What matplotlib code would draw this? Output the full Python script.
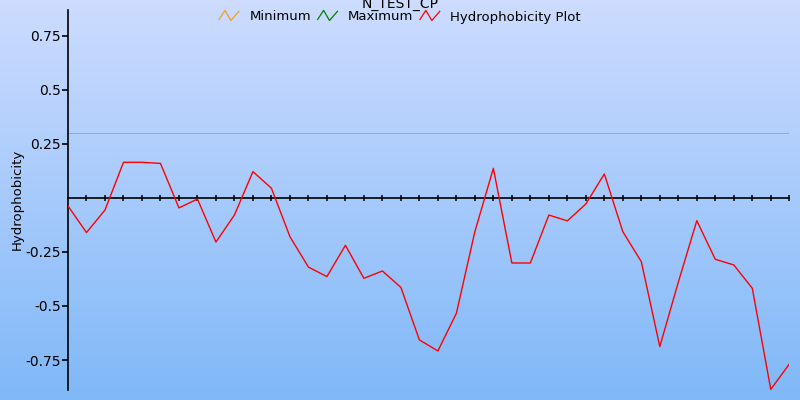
import matplotlib
matplotlib.use('Agg')
import matplotlib.pyplot as plt
from matplotlib.legend_handler import HandlerBase
from matplotlib.lines import Line2D
from matplotlib.colors import LinearSegmentedColormap
import numpy as np

# hydrophobicity per residue window
hydro = [-0.037, -0.16, -0.056, 0.165, 0.165, 0.16, -0.046, -0.005, -0.204, -0.079,
         0.122, 0.045, -0.179, -0.32, -0.364, -0.219, -0.372, -0.338, -0.414, -0.657,
         -0.708, -0.534, -0.156, 0.137, -0.301, -0.301, -0.079, -0.106, -0.028, 0.111,
         -0.156, -0.295, -0.688, -0.39, -0.105, -0.284, -0.31, -0.418, -0.886, -0.769]
minimum = 0.3
yticks = [0.75, 0.5, 0.25, -0.25, -0.5, -0.75]
ytick_labels = ['0.75', '0.5', '0.25', '-0.25', '-0.5', '-0.75']
title = 'N_TEST_CP'

x = np.arange(len(hydro))


class ZigZag(HandlerBase):
    # little zigzag icon like the original legend
    def create_artists(self, legend, orig_handle, xdescent, ydescent,
                       width, height, fontsize, trans):
        px = np.array([0.0, 0.3, 0.6, 1.0]) * width - xdescent
        py = np.array([0.1, 1.0, 0.0, 0.9]) * height * 1.1 - ydescent
        ln = Line2D(px, py, color=orig_handle.get_color(), lw=0.9, transform=trans)
        return [ln]


fig = plt.figure(figsize=(8, 4), dpi=100)

# gradient background
bg = fig.add_axes([0, 0, 1, 1], zorder=-10)
cmap = LinearSegmentedColormap.from_list('bg', ['#cddcff', '#80b8f8'])
bg.imshow(np.linspace(0, 1, 256).reshape(-1, 1), aspect='auto', cmap=cmap,
          extent=[0, 1, 0, 1])
bg.axis('off')

ax = fig.add_axes([0.085, 0.026, 0.9016, 0.949])
ax.set_facecolor('none')

ax.axhline(minimum, color='#e8a020', lw=0.72, antialiased=False, zorder=2)
ax.plot(x, hydro, color='#ff0000', lw=1.0, zorder=3)

ax.set_xlim(0, len(hydro) - 1)
ax.set_ylim(-0.887, 0.87)

ax.spines['top'].set_visible(False)
ax.spines['right'].set_visible(False)
ax.spines['bottom'].set_position(('data', 0))
ax.spines['left'].set_linewidth(1.2)
ax.spines['bottom'].set_linewidth(1.2)

ax.set_xticks(x[1:])
ax.tick_params(axis='x', direction='inout', length=5, width=1.1, labelbottom=False)
ax.set_yticks(yticks)
ax.set_yticklabels(ytick_labels)
ax.tick_params(axis='y', direction='out', length=4, width=1.2, labelsize=10,
               pad=1, colors='black')
ax.set_ylabel('Hydrophobicity', fontsize=9.5)
ax.yaxis.set_label_coords(-0.062, 0.5)

fig.text(0.5, 1 - 4 / 400, title, ha='center', va='center', fontsize=10)

handles = [Line2D([], [], color='#f0a020'), Line2D([], [], color='#008000'),
           Line2D([], [], color='#ff0000')]
fig.legend(handles, ['Minimum', 'Maximum', 'Hydrophobicity Plot'],
           handler_map={Line2D: ZigZag()}, loc='center',
           bbox_to_anchor=(0.5, 1 - 17 / 400), ncol=3, frameon=False,
           fontsize=9.5, handlelength=1.5, handletextpad=0.8, columnspacing=0.5,
           borderpad=0)

fig.savefig('out.png', dpi=100)
